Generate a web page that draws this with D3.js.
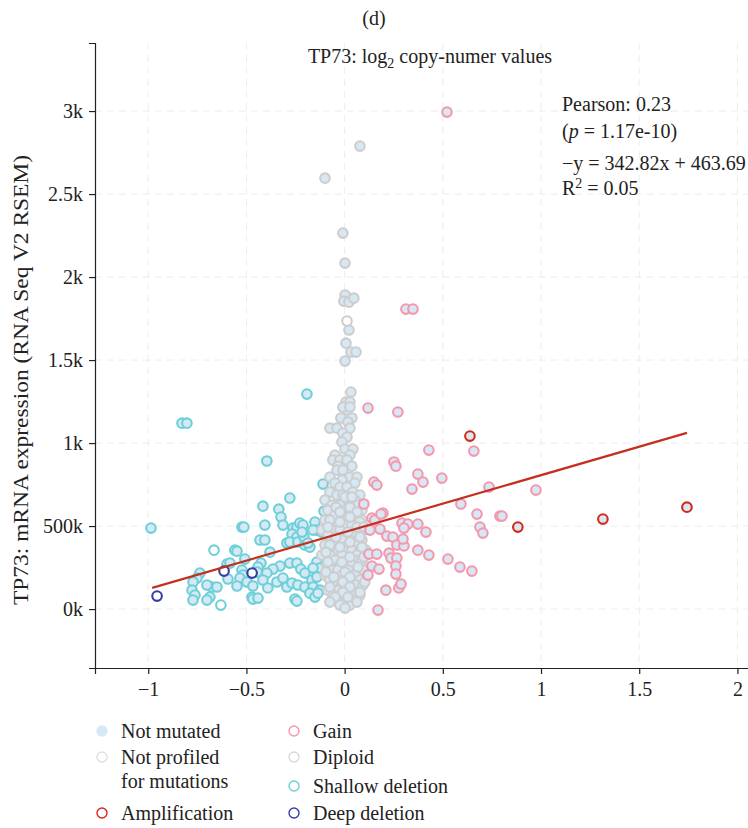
<!DOCTYPE html>
<html>
<head>
<meta charset="utf-8">
<script src="https://cdn.jsdelivr.net/npm/d3@7"></script>
<style>
  body { margin: 0; background: #fff; }
  text { font-family: "Liberation Serif", "Times New Roman", serif; fill: #222; }
</style>
</head>
<body>
<script>
var w = 748;
var h = 828;

// x ticks and y ticks (labels as printed in the figure)
var xTicks = [-1, -0.5, 0, 0.5, 1, 1.5, 2];
var xTickLabels = ["\u22121", "\u22120.5", "0", "0.5", "1", "1.5", "2"];
var yTicks = [0, 500, 1000, 1500, 2000, 2500, 3000];
var yTickLabels = ["0k", "500k", "1k", "1.5k", "2k", "2.5k", "3k"];

// regression line from the annotation
var slope = 342.82;
var intercept = 463.69;
var fitRange = [-0.98, 1.743];

// points: [log2 copy number, mRNA expression]
var shallow = [
  [-0.828,1120],[-0.803,1120],[-0.986,488],[-0.396,892],[-0.192,1295],[-0.110,753],
  [-0.279,669],[-0.416,620],[-0.335,602],[-0.324,554],[-0.314,506],[-0.105,590],
  [-0.523,494],[-0.513,494],[-0.406,506],[-0.431,416],[-0.406,416],[-0.294,398],
  [-0.263,488],[-0.243,494],[-0.228,518],[-0.212,506],[-0.268,452],[-0.243,434],
  [-0.279,404],[-0.238,404],[-0.207,434],[-0.151,524],[-0.141,476],[-0.116,464],
  [-0.202,386],[-0.177,373],[-0.187,398],[-0.559,355],[-0.548,349],[-0.380,343],
  [-0.508,301],[-0.599,271],[-0.584,277],[-0.426,277],[-0.441,253],[-0.329,259],
  [-0.365,241],[-0.396,217],[-0.279,277],[-0.243,277],[-0.223,241],[-0.202,217],
  [-0.141,283],[-0.126,247],[-0.161,247],[-0.523,235],[-0.518,205],[-0.533,187],
  [-0.737,217],[-0.752,187],[-0.772,163],[-0.675,133],[-0.701,145],[-0.650,133],
  [-0.594,181],[-0.548,139],[-0.497,163],[-0.446,223],[-0.416,175],[-0.467,139],
  [-0.391,127],[-0.345,163],[-0.314,187],[-0.294,133],[-0.268,157],[-0.238,145],
  [-0.202,133],[-0.166,175],[-0.141,193],[-0.161,133],[-0.126,114],[-0.777,114],
  [-0.762,84],[-0.772,54],[-0.686,72],[-0.701,54],[-0.472,72],[-0.467,60],
  [-0.441,66],[-0.253,60],[-0.177,96],[-0.151,72],[-0.136,96],[-0.243,48],
  [-0.161,476],[-0.217,464]
];
var shallowNotProfiled = [[-0.665,355],[-0.630,24]];

var diploid = [
  [0.078,2789],[-0.100,2596],[-0.009,2265],[0.002,2084],[0.002,1892],[-0.004,1855],
  [0.022,1849],[0.047,1873],[0.022,1681],[0.007,1602],[0.032,1548],[0.058,1548],
  [0.002,1494],[0.032,1307],[0.007,1247],[0.027,1247],[-0.009,1217],[0.027,1217],
  [0.002,1151],[0.037,1151],[-0.019,1151],[0.017,1127],[-0.075,1090],[-0.039,1090],
  [0.027,1090],[-0.009,1060],[0.012,1036],[-0.014,1006],[0.002,964],[0.042,964],
  [0.027,928],[-0.049,928],[-0.060,898],[-0.024,898],[0.012,898],[-0.034,861],
  [0.037,861],[-0.039,837],[-0.009,837],[0.027,795],[0.063,795],[-0.075,795],
  [-0.014,777],[-0.049,759],[0.052,759],[-0.024,735],[0.012,735],[0.042,705],
  [-0.075,705],[-0.039,687],[-0.009,687],[0.078,687],[-0.100,657],[0.017,657],
  [0.052,657],[-0.065,627],[-0.024,627],[0.068,627],[-0.085,596],[0.002,596],
  [0.037,596],[0.088,596],[-0.049,566],[-0.014,566],[0.063,566],[-0.100,536],
  [-0.075,536],[0.017,536],[0.052,536],[0.088,536],[-0.034,506],[0.002,506],
  [0.037,506],[-0.116,476],[-0.065,476],[-0.024,476],[0.068,476],[0.098,476],
  [-0.085,446],[0.002,446],[0.037,446],[-0.049,416],[-0.014,416],[0.063,416],
  [0.088,416],[-0.100,386],[-0.075,386],[0.017,386],[0.052,386],[-0.034,355],
  [0.002,355],[0.037,355],[0.078,355],[0.108,355],[-0.116,325],[-0.075,325],
  [-0.014,325],[0.063,325],[-0.049,295],[0.017,295],[0.052,295],[0.088,295],
  [-0.090,265],[-0.024,265],[0.002,265],[0.037,265],[-0.065,235],[-0.034,235],
  [0.017,235],[0.068,235],[0.098,235],[-0.100,205],[-0.014,205],[0.052,205],
  [-0.075,175],[-0.039,175],[0.017,175],[0.037,175],[0.078,175],[-0.055,145],
  [-0.014,145],[0.058,145],[0.093,145],[-0.085,114],[-0.034,114],[0.012,114],
  [0.037,114],[-0.060,84],[-0.014,84],[0.058,84],[0.078,84],[-0.039,54],
  [0.012,54],[0.042,54],[-0.024,24],[0.027,24],[0.002,6],
  [0.002,675],[0.037,675],[0.027,614],[-0.044,614],[-0.024,584],[0.063,584],
  [0.027,554],[-0.024,524],[0.078,524],[-0.085,494],[0.063,494],[0.098,494],
  [0.017,464],[-0.044,434],[0.078,434],[0.027,404],[-0.024,373],[0.088,373],
  [-0.095,343],[0.027,313],[0.098,313],[-0.085,283],[-0.014,283],[0.068,253],
  [0.002,223],[-0.095,223],[0.027,193],[-0.055,193],[-0.009,163],[0.103,163],
  [0.027,133],[-0.075,133],[-0.009,102],[0.078,102],[0.017,72],[-0.049,72],
  [0.063,42],[-0.075,42]
];
var diploidNotProfiled = [[0.012,1735]];

var gain = [
  [0.521,2994],[0.312,1807],[0.348,1807],[0.119,1211],[0.271,1187],[0.658,952],
  [0.429,958],[0.251,886],[0.261,861],[0.373,813],[0.399,765],[0.495,789],
  [0.343,723],[0.149,765],[0.164,747],[0.735,735],[0.974,717],[0.098,633],
  [0.592,633],[0.674,572],[0.791,560],[0.801,560],[0.689,494],[0.704,458],
  [0.195,578],[0.139,548],[0.154,536],[0.292,518],[0.322,512],[0.302,488],
  [0.373,512],[0.414,464],[0.129,476],[0.180,482],[0.215,440],[0.246,434],
  [0.266,386],[0.302,380],[0.297,422],[0.373,355],[0.429,325],[0.124,331],
  [0.164,331],[0.226,337],[0.236,307],[0.266,307],[0.261,259],[0.139,259],
  [0.175,241],[0.119,205],[0.261,211],[0.526,301],[0.587,253],[0.648,229],
  [0.210,114],[0.276,127],[0.287,151],[0.170,-6],[0.185,572]
];

var amplification = [[0.638,1042],[0.882,494],[1.315,542],[1.743,614]];
var deepDeletion = [[-0.955,78],[-0.614,229],[-0.471,217]];

// legend entries
var legendLeft = [
  { label: ["Not mutated"], type: "mut" },
  { label: ["Not profiled", "for mutations"], type: "np" },
  { label: ["Amplification"], type: "amp" }
];
var legendRight = [
  { label: ["Gain"], type: "gain" },
  { label: ["Diploid"], type: "diploid" },
  { label: ["Shallow deletion"], type: "shallow" },
  { label: ["Deep deletion"], type: "deep" }
];

var colors = {
  mutFill: "#d6e8f4",
  npFill: "#ffffff",
  diploid: "#cdcdcd",
  gain: "#f597ad",
  shallow: "#6cd0d8",
  deep: "#383ca4",
  amp: "#d4281a",
  npStroke: "#e0e0e0"
};

var fontSize = "20px";
var plotLeft = 95, plotBottom = 668, plotTop = 43;

var xScale = d3.scaleLinear().domain([-1.271, 2.1]).range([plotLeft, plotLeft + 3.371 * 196.4]);
var yScale = d3.scaleLinear().domain([-355, 3410]).range([plotBottom, plotTop]);

var svg = d3.select("body").append("svg")
  .attr("width", w)
  .attr("height", h);

// grid
svg.append("g").selectAll("line")
  .data(xTicks)
  .enter().append("line")
  .attr("x1", function(d) { return xScale(d); })
  .attr("x2", function(d) { return xScale(d); })
  .attr("y1", plotTop).attr("y2", plotBottom)
  .attr("stroke", "#ededed").attr("stroke-dasharray", "7,5");

svg.append("g").selectAll("line")
  .data(yTicks)
  .enter().append("line")
  .attr("x1", plotLeft).attr("x2", w)
  .attr("y1", function(d) { return yScale(d); })
  .attr("y2", function(d) { return yScale(d); })
  .attr("stroke", "#ededed").attr("stroke-dasharray", "7,5");

// axes
var xAxis = svg.append("g")
  .attr("transform", "translate(0," + plotBottom + ")")
  .call(d3.axisBottom(xScale).tickValues(xTicks)
    .tickFormat(function(d, i) { return xTickLabels[i]; })
    .tickSizeOuter(0).tickSize(6).tickPadding(8));

var yAxis = svg.append("g")
  .attr("transform", "translate(" + plotLeft + ",0)")
  .call(d3.axisLeft(yScale).tickValues(yTicks)
    .tickFormat(function(d, i) { return yTickLabels[i]; })
    .tickSizeOuter(0).tickSize(6).tickPadding(6));

[xAxis, yAxis].forEach(function(a) {
  a.selectAll("text")
    .style("font-family", "'Liberation Serif', serif")
    .style("font-size", fontSize)
    .attr("fill", "#222");
  a.selectAll("line, path").attr("stroke", "#222").attr("stroke-width", 1.2);
});

// points
function drawPoints(data, fill, stroke) {
  svg.append("g").selectAll("circle")
    .data(data)
    .enter().append("circle")
    .attr("cx", function(d) { return xScale(d[0]); })
    .attr("cy", function(d) { return yScale(d[1]); })
    .attr("r", 4.8)
    .attr("fill", fill)
    .attr("stroke", stroke)
    .attr("stroke-width", 2.1);
}

drawPoints(shallow, colors.mutFill, colors.shallow);
drawPoints(shallowNotProfiled, colors.npFill, colors.shallow);
drawPoints(diploid, colors.mutFill, colors.diploid);
drawPoints(diploidNotProfiled, colors.npFill, colors.diploid);
drawPoints(gain, colors.mutFill, colors.gain);
drawPoints(amplification, colors.mutFill, colors.amp);
drawPoints(deepDeletion, colors.npFill, colors.deep);

// regression line
svg.append("line")
  .attr("x1", xScale(fitRange[0]))
  .attr("y1", yScale(slope * fitRange[0] + intercept))
  .attr("x2", xScale(fitRange[1]))
  .attr("y2", yScale(slope * fitRange[1] + intercept))
  .attr("stroke", "#c3301e")
  .attr("stroke-width", 2.2);

// titles
svg.append("text")
  .attr("x", 374).attr("y", 25)
  .attr("text-anchor", "middle")
  .style("font-size", fontSize)
  .text("(d)");

var title = svg.append("text")
  .attr("x", 430).attr("y", 63)
  .attr("text-anchor", "middle")
  .style("font-size", fontSize);
title.append("tspan").text("TP73: log");
title.append("tspan").attr("dy", 5).style("font-size", "14px").text("2");
title.append("tspan").attr("dy", -5).text(" copy-numer values");

svg.append("text")
  .attr("text-anchor", "middle")
  .attr("transform", "rotate(-90)")
  .attr("x", -380)
  .attr("y", 28)
  .attr("textLength", 450)
  .attr("lengthAdjust", "spacingAndGlyphs")
  .style("font-size", "21px")
  .text("TP73: mRNA expression (RNA Seq V2 RSEM)");

// stats
var sx = 562;
svg.append("text").attr("x", sx).attr("y", 111).style("font-size", fontSize).text("Pearson: 0.23");
var pt = svg.append("text").attr("x", sx).attr("y", 138).style("font-size", fontSize);
pt.append("tspan").text("(");
pt.append("tspan").style("font-style", "italic").text("p");
pt.append("tspan").text(" = 1.17e-10)");
svg.append("text").attr("x", sx).attr("y", 170).style("font-size", fontSize)
  .text("\u2212y = " + slope.toFixed(2) + "x + " + intercept.toFixed(2));
var rt = svg.append("text").attr("x", sx).attr("y", 195).style("font-size", fontSize);
rt.append("tspan").text("R");
rt.append("tspan").attr("dy", -7).style("font-size", "14px").text("2");
rt.append("tspan").attr("dy", 7).text(" = 0.05");

// legend
function legendStyle(type) {
  switch (type) {
    case "mut": return { fill: colors.mutFill, stroke: colors.mutFill };
    case "np": return { fill: "#fff", stroke: colors.npStroke };
    case "amp": return { fill: "#fff", stroke: colors.amp };
    case "gain": return { fill: "#fff", stroke: colors.gain };
    case "diploid": return { fill: "#fff", stroke: "#d8d8d8" };
    case "shallow": return { fill: "#fff", stroke: colors.shallow };
    case "deep": return { fill: "#fff", stroke: colors.deep };
  }
}

function drawLegend(items, cx, ys) {
  items.forEach(function(item, i) {
    var st = legendStyle(item.type);
    svg.append("circle")
      .attr("cx", cx).attr("cy", ys[i]).attr("r", 5)
      .attr("fill", st.fill).attr("stroke", st.stroke).attr("stroke-width", 1.4);
    item.label.forEach(function(line, j) {
      svg.append("text")
        .attr("x", cx + 19).attr("y", ys[i] + 7 + j * 24)
        .style("font-size", fontSize)
        .text(line);
    });
  });
}

drawLegend(legendLeft, 102, [731, 757, 813]);
drawLegend(legendRight, 294, [731, 757, 786, 813]);
</script>
</body>
</html>
